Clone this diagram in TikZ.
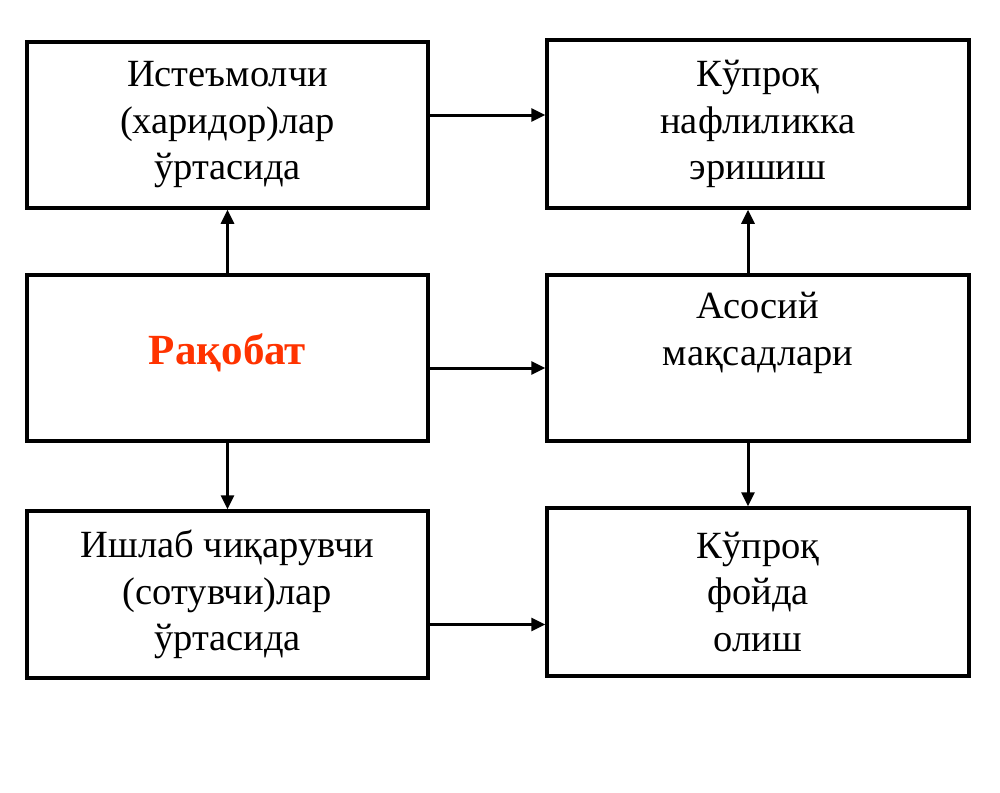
\documentclass[tikz,border=0pt]{standalone}
\usepackage{fontspec}
\setmainfont{Liberation Serif}
\usetikzlibrary{arrows.meta,positioning}
\definecolor{rakred}{HTML}{FF3300}
\tikzset{
  box/.style={draw=black, line width=3.5pt, fill=white, align=center, inner sep=0pt,
    font=\fontsize{38.5}{46.5}\selectfont},
  arr/.style={line width=3pt, -{Triangle[length=14pt,width=13pt]}},
}
\begin{document}
\begin{tikzpicture}[x=1pt,y=-1pt]
\useasboundingbox[fill=white] (0,0) rectangle (1000,792);
\node[box, minimum width=401pt, minimum height=166pt] (TL) at (227.5,125) {Истеъмолчи\\(харидор)лар\\ўртасида};
\node[box, minimum width=422pt, minimum height=168pt] (TR) at (758,124) {Кўпроқ\\нафлиликка\\эришиш};
\node[box, minimum width=401pt, minimum height=166pt, text depth=18pt] (ML) at (227.5,358) {\fontsize{43}{50}\selectfont\textbf{\textcolor{rakred}{Рақобат}}};
\node[box, minimum width=422pt, minimum height=166pt] (MR) at (758,358) {Асосий\\мақсадлари\\[12pt]\mbox{}};
\node[box, minimum width=401pt, minimum height=167pt] (BL) at (227.5,594.5) {Ишлаб чиқарувчи\\(сотувчи)лар\\ўртасида};
\node[box, minimum width=422pt, minimum height=168pt] (BR) at (758,592) {Кўпроқ\\фойда\\олиш};
\draw[arr] ([yshift=10pt]TL.east) -- ([yshift=10pt]TL.east -| TR.west);
\draw[arr] ([yshift=-10pt]ML.east) -- ([yshift=-10pt]ML.east -| MR.west);
\draw[arr] ([yshift=-30pt]BL.east) -- ([yshift=-30pt]BL.east -| BR.west);
\draw[arr] (ML.north) -- (TL.south);
\draw[arr] (ML.south) -- (BL.north);
\draw[arr] ([xshift=-10pt]MR.north) -- ([xshift=-10pt]MR.north |- TR.south);
\draw[arr] ([xshift=-10pt]MR.south) -- ([xshift=-10pt]MR.south |- BR.north);
\end{tikzpicture}
\end{document}
